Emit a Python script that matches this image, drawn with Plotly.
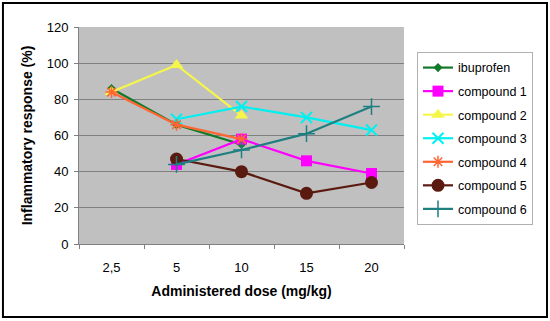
import plotly.graph_objects as go

doses = ["2,5", "5", "10", "15", "20"]
ibuprofen = [86, 66, 55, None, None]
compound1 = [None, 44, 58, 46, 39]
compound2 = [84, 99, 71, None, None]
compound3 = [None, 69, 76, 70, 63]
compound4 = [84, 66, 58, None, None]
compound5 = [None, 47, 40, 28, 34]
compound6 = [None, 44, 52, 61, 76]

series = [
    ("ibuprofen", ibuprofen, "#117a2a", "diamond", 7, 0),
    ("compound 1", compound1, "#ff00ff", "square", 11, 0),
    ("compound 2", compound2, "#f6f64a", "triangle-up", 12, 0),
    ("compound 3", compound3, "#00f0f0", "x-thin-open", 11, 2),
    ("compound 4", compound4, "#ff6633", "asterisk-open", 10, 1.5),
    ("compound 5", compound5, "#5a1a10", "circle", 13, 0),
    ("compound 6", compound6, "#1f7f80", "cross-thin-open", 12, 1.5),
]

fig = go.Figure()
for name, vals, color, sym, size, lw in series:
    fig.add_trace(go.Scatter(
        x=doses, y=vals, name=name, mode="lines+markers", legendgroup=name,
        line=dict(color=color, width=2.2),
        marker=dict(symbol=sym, size=size, color=color,
                    line=dict(color=color, width=lw)),
        connectgaps=False,
    ))

fig.update_layout(
    width=550, height=321,
    margin=dict(l=79, r=146, t=27, b=77),
    paper_bgcolor="white", plot_bgcolor="#c0c0c0",
    font=dict(family="Liberation Sans, Arial, sans-serif", size=12, color="black"),
    showlegend=True,
    legend=dict(x=1.04, y=0.885, xanchor="left", yanchor="top",
                bgcolor="white", bordercolor="#b0b0b0", borderwidth=1,
                font=dict(size=12.5), tracegroupgap=4.3, itemwidth=30),
    xaxis=dict(type="category", range=[-0.5, 4.5], showgrid=False,
               ticks="outside", tickson="boundaries", ticklen=4, tickcolor="#808080",
               showline=True, linecolor="#808080", linewidth=1,
               tickfont=dict(size=13), ticklabelstandoff=11,
               title=dict(text="<b>Administered dose (mg/kg)</b>", font=dict(size=14), standoff=12)),
    yaxis=dict(range=[0, 120], dtick=20, showgrid=True, gridcolor="#808080", gridwidth=1,
               ticks="outside", ticklen=4, tickcolor="#808080",
               showline=True, linecolor="#808080", linewidth=1, zeroline=False,
               tickfont=dict(size=13), ticklabelstandoff=3,
               title=dict(text="<b>Inflammatory response (%)</b>", font=dict(size=14), standoff=10)),
    shapes=[dict(type="rect", xref="paper", yref="paper",
                 x0=-0.234, x1=1.44, y0=-0.336, y1=1.111,
                 line=dict(color="black", width=2), fillcolor="rgba(0,0,0,0)", layer="below")],
)

fig.write_html("out.html", config={"displayModeBar": False},
               post_script="document.body.style.margin='0';")
